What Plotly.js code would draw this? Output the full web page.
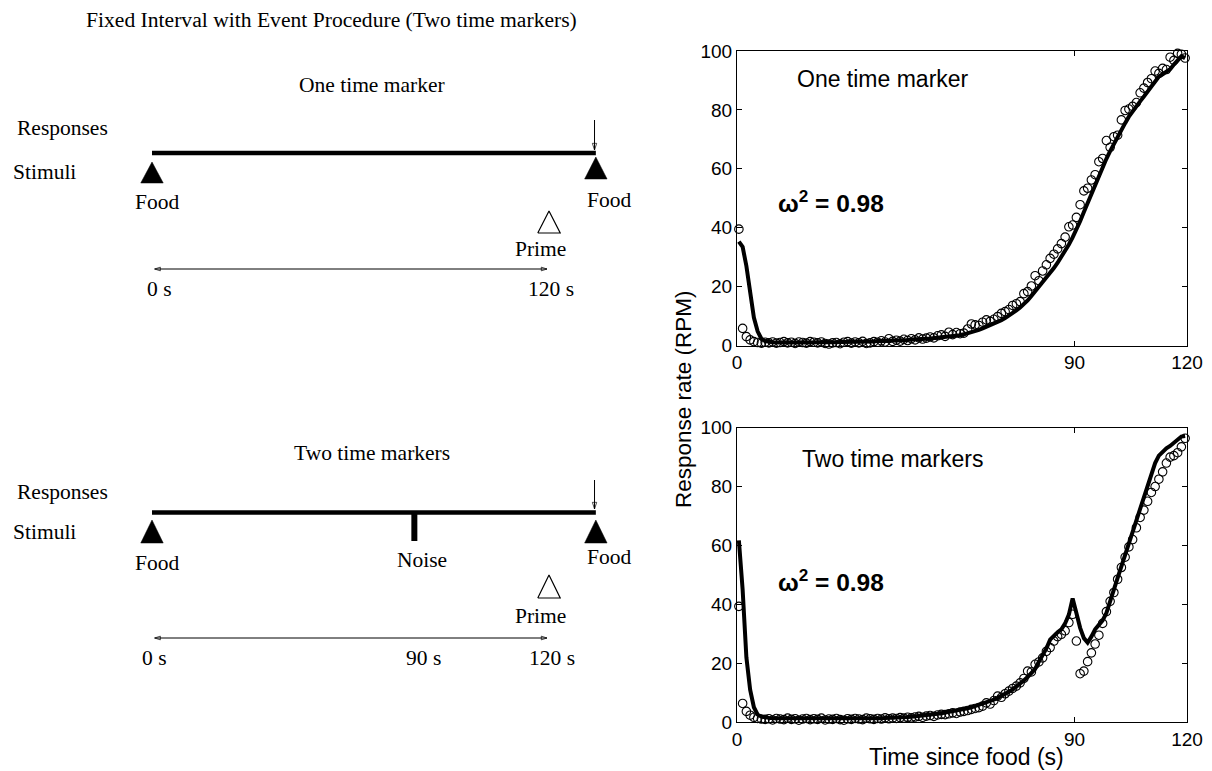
<!DOCTYPE html>
<html>
<head>
<meta charset="utf-8">
<script src="https://cdn.plot.ly/plotly-3.0.1.min.js"></script>
<style>
html,body{margin:0;padding:0;background:#fff;}
#chart{width:1212px;height:771px;}
</style>
</head>
<body>
<div id="chart"></div>
<script>
// ---------------- data ----------------
const timeBins = [0.5,1.5,2.5,3.5,4.5,5.5,6.5,7.5,8.5,9.5,
  10.5,11.5,12.5,13.5,14.5,15.5,16.5,17.5,18.5,19.5,
  20.5,21.5,22.5,23.5,24.5,25.5,26.5,27.5,28.5,29.5,
  30.5,31.5,32.5,33.5,34.5,35.5,36.5,37.5,38.5,39.5,
  40.5,41.5,42.5,43.5,44.5,45.5,46.5,47.5,48.5,49.5,
  50.5,51.5,52.5,53.5,54.5,55.5,56.5,57.5,58.5,59.5,
  60.5,61.5,62.5,63.5,64.5,65.5,66.5,67.5,68.5,69.5,
  70.5,71.5,72.5,73.5,74.5,75.5,76.5,77.5,78.5,79.5,
  80.5,81.5,82.5,83.5,84.5,85.5,86.5,87.5,88.5,89.5,
  90.5,91.5,92.5,93.5,94.5,95.5,96.5,97.5,98.5,99.5,
  100.5,101.5,102.5,103.5,104.5,105.5,106.5,107.5,108.5,109.5,
  110.5,111.5,112.5,113.5,114.5,115.5,116.5,117.5,118.5,119.5];

const oneObserved = [39.5,5.8,3.0,1.9,1.3,1.0,0.8,1.1,0.9,1.2,
  0.8,1.0,1.3,0.9,1.1,0.7,1.2,1.0,0.8,1.3,
  1.1,0.9,1.2,0.7,0.5,0.9,1.0,0.6,1.1,1.3,
  0.8,1.2,0.9,1.4,0.7,0.9,1.3,1.1,1.6,1.2,
  2.3,1.4,1.8,1.5,2.1,1.7,2.3,1.9,2.6,2.2,
  2.5,2.9,2.6,3.3,3.6,3.1,4.5,3.7,4.4,4.0,
  4.2,5.6,7.3,7.0,6.8,7.9,8.7,8.2,8.9,9.8,
  10.9,11.5,12.2,13.6,14.2,14.9,17.6,18.3,20.2,23.7,
  22.0,25.3,27.4,29.6,31.0,32.8,34.6,36.8,40.3,40.9,
  43.5,47.8,52.5,53.4,56.2,58.0,62.4,63.5,69.6,67.3,
  70.9,71.4,76.6,79.8,80.3,81.2,82.5,85.8,87.4,89.3,
  90.6,93.2,92.4,94.1,93.7,97.9,96.8,99.2,98.9,97.6];

const oneModel = [35.3,33.5,27.0,17.5,9.5,4.8,2.3,1.5,1.2,1.1,
  1.0,1.1,1.2,1.1,1.0,1.1,1.2,1.2,1.1,1.0,
  1.1,1.2,1.3,1.2,1.1,1.0,1.1,1.2,1.2,1.3,
  1.2,1.1,1.2,1.3,1.4,1.3,1.4,1.5,1.4,1.5,
  1.6,1.6,1.7,1.8,1.8,1.9,2.0,2.0,2.1,2.2,
  2.3,2.4,2.5,2.6,2.7,2.8,3.0,3.1,3.3,3.5,
  3.8,4.1,4.5,4.9,5.3,5.8,6.3,6.8,7.3,7.9,
  8.6,9.3,10.1,11.0,11.9,12.9,14.0,15.3,16.8,18.3,
  19.8,21.3,22.9,24.5,26.3,28.1,30.0,32.1,34.3,36.7,
  39.3,42.2,45.3,48.4,51.5,54.6,57.6,60.6,63.4,66.0,
  68.5,70.9,73.2,75.5,77.7,79.6,81.3,82.9,84.5,86.2,
  88.0,89.8,91.3,92.1,92.9,93.8,95.4,97.0,98.2,97.5];

const twoObserved = [39.3,6.3,3.6,2.3,1.6,1.2,1.0,0.9,1.1,0.7,
  1.2,1.0,0.8,1.3,0.9,1.1,0.6,1.0,1.2,0.8,
  1.1,0.9,1.3,0.7,1.0,0.9,1.2,0.8,0.6,1.1,
  0.9,1.2,1.0,0.8,1.3,1.1,0.9,1.2,1.0,1.4,
  1.1,1.3,1.2,1.5,1.3,1.6,1.4,1.7,1.9,1.6,
  2.0,2.2,1.9,2.4,2.6,2.5,2.8,3.1,2.9,3.4,
  3.6,3.9,4.3,4.6,4.9,5.4,6.5,6.1,7.3,8.8,
  8.4,9.6,10.5,11.4,12.2,13.3,14.8,17.3,17.0,19.6,
  20.4,21.8,24.0,25.3,27.5,29.0,29.8,31.0,33.8,36.6,
  27.5,16.4,17.3,20.5,23.5,26.5,29.5,33.5,37.5,41.0,
  44.0,48.5,52.5,56.0,59.5,62.0,66.0,69.5,72.0,75.0,
  78.0,80.0,82.5,85.0,88.0,90.0,90.5,91.5,93.5,96.4];

const twoModel = [61.7,45.0,22.0,11.0,5.0,2.5,1.8,1.5,1.4,1.3,
  1.3,1.2,1.2,1.2,1.1,1.1,1.1,1.1,1.0,1.0,
  1.0,1.0,1.0,1.0,1.0,1.0,1.0,1.1,1.1,1.1,
  1.1,1.1,1.2,1.2,1.2,1.2,1.3,1.3,1.3,1.4,
  1.4,1.5,1.5,1.6,1.6,1.7,1.8,1.9,2.0,2.1,
  2.2,2.4,2.6,2.8,3.0,3.2,3.4,3.6,3.9,4.1,
  4.4,4.7,5.0,5.4,5.8,6.2,6.6,7.1,7.6,8.2,
  8.8,9.5,10.3,11.1,12.0,13.0,14.1,15.3,16.6,18.0,
  20.5,22.5,25.0,28.0,29.5,30.5,31.5,33.5,36.5,42.0,
  37.0,32.0,28.5,27.0,29.0,31.5,33.0,34.5,37.0,41.5,
  45.0,49.0,53.0,57.0,60.5,64.0,68.0,72.0,76.0,80.0,
  84.0,88.0,90.5,92.0,93.0,93.8,94.8,96.0,97.0,97.2];

const xTickVals = [0, 90, 120];
const yTickVals = [0, 20, 40, 60, 80, 100];
const panelNames = ['One time marker', 'Two time markers'];
const fitText = '<b>\u03c9<sup>2</sup> = 0.98</b>';
const xTitle = 'Time since food (s)';
const yTitle = 'Response rate (RPM)';

// schematic (left) texts
const schematicTitle = 'Fixed Interval with Event Procedure (Two time markers)';
const rowLabels = ['Responses', 'Stimuli'];
const eventLabels = ['Food', 'Prime', 'Food', 'Noise'];
const intervalLabelsOne = ['0 s', '120 s'];
const intervalLabelsTwo = ['0 s', '90 s', '120 s'];

// ---------------- layout helpers ----------------
const W = 1212, H = 771;
const pyTop = px => 1 - px / H;
const serif = 'Liberation Serif, Times New Roman, serif';
const sans = 'Liberation Sans, Arial, sans-serif';

// schematic x axis: seconds of the drawn interval (not to scale)
const sX0 = 152, sScale = 3.3, sDomEnd = 0.55;
const sRange = [-sX0 / sScale, (sDomEnd * W - sX0) / sScale];
const pos = {start: 0, prime: 120, food: 134.5, noise: 79.5};
const triHalf = 3.4;

// per-panel vertical rows (pixels below the time line)
const rowsOne = {header: -68, resp: -25, stim: 19, triL: [9, 30], triR: [4, 26], foodL: 49, foodR: 47,
  primeTri: [58, 80], primeLbl: 96, arrow: 116, ticks: 136, respArrow: [-33, -3]};
const rowsTwo = {header: -60, resp: -20.5, stim: 19.5, triL: [7.5, 30.5], triR: [7.5, 30.5], foodL: 50.5, foodR: 44.5,
  noiseBar: 28.5, noiseLbl: 47.5, primeTri: [62.5, 85.5], primeLbl: 103.5, arrow: 125.5, ticks: 145, respArrow: [-32.5, -3.5]};

const traces = [];
const annotations = [];

function tri(xc, rows, yaxis, filled) {
  traces.push({
    x: [xc - triHalf, xc + triHalf, xc, xc - triHalf],
    y: [rows[1], rows[1], rows[0], rows[1]],
    xaxis: 'x3', yaxis: yaxis, mode: 'lines', fill: 'toself',
    fillcolor: filled ? '#000' : '#fff',
    line: {color: '#000', width: filled ? 0.5 : 1.2},
    hoverinfo: 'skip', showlegend: false
  });
}
function txt(text, x, y, yref, xanchor, size) {
  annotations.push({text: text, x: x, y: y, xref: 'x3', yref: yref, showarrow: false,
    xanchor: xanchor || 'center', yanchor: 'middle',
    font: {family: serif, size: size || 21.5, color: '#000'}});
}
function arrowTrace(xs, ys, yaxis, sizes, angles) {
  traces.push({x: xs, y: ys, xaxis: 'x3', yaxis: yaxis, mode: 'lines+markers', cliponaxis: false,
    line: {color: '#000', width: 1},
    marker: {symbol: 'arrow-open', size: sizes, angle: angles, color: '#000', line: {width: 1, color: '#000'}},
    hoverinfo: 'skip', showlegend: false});
}

function schematic(rows, yaxis, yref, header, ticks, tickPos, hasNoise) {
  traces.push({x: [pos.start, pos.food], y: [0, 0], xaxis: 'x3', yaxis: yaxis, mode: 'lines',
    line: {color: '#000', width: 4.3}, hoverinfo: 'skip', showlegend: false});
  if (hasNoise) {
    traces.push({x: [pos.noise, pos.noise], y: [0, rows.noiseBar], xaxis: 'x3', yaxis: yaxis, mode: 'lines',
      line: {color: '#000', width: 6}, hoverinfo: 'skip', showlegend: false});
  }
  tri(pos.start, rows.triL, yaxis, true);
  tri(pos.food, rows.triR, yaxis, true);
  tri(pos.prime + 0.3, rows.primeTri, yaxis, false);
  arrowTrace([pos.food - 0.4, pos.food - 0.4], rows.respArrow, yaxis, [0, 7], [180, 180]);
  arrowTrace([pos.start + 0.8, pos.prime - 0.3], [rows.arrow, rows.arrow], yaxis, [6, 6], [-90, 90]);
  txt(header, 66.7, rows.header, yref);
  txt(rowLabels[0], -41.5, rows.resp, yref, 'left');
  txt(rowLabels[1], -42.7, rows.stim, yref, 'left');
  txt(eventLabels[0], pos.start + 1.5, rows.foodL, yref);
  txt(eventLabels[1], pos.prime - 2.3, rows.primeLbl, yref);
  txt(eventLabels[2], pos.food + 4, rows.foodR, yref);
  if (hasNoise) txt(eventLabels[3], pos.noise + 2.3, rows.noiseLbl, yref);
  ticks.forEach((t, i) => txt(t, tickPos[i], rows.ticks, yref));
}

schematic(rowsOne, 'y3', 'y3', panelNames[0], intervalLabelsOne, [2.4, 121], false);
schematic(rowsTwo, 'y4', 'y4', panelNames[1], intervalLabelsTwo, [0.9, 82.3, 121.2], true);

annotations.push({text: schematicTitle, xref: 'paper', yref: 'paper', x: 331.5 / W, y: pyTop(20),
  xanchor: 'center', yanchor: 'middle', showarrow: false, font: {family: serif, size: 21.6, color: '#000'}});

// ---------------- data panels ----------------
function panel(obs, model, xa, ya) {
  traces.push({x: timeBins, y: obs, xaxis: xa, yaxis: ya, mode: 'markers', cliponaxis: false,
    marker: {symbol: 'circle-open', size: 8.5, color: '#000', line: {width: 1.1, color: '#000'}},
    hoverinfo: 'skip', showlegend: false});
  traces.push({x: timeBins, y: model, xaxis: xa, yaxis: ya, mode: 'lines',
    line: {color: '#000', width: 4}, hoverinfo: 'skip', showlegend: false});
}
panel(oneObserved, oneModel, 'x', 'y');
panel(twoObserved, twoModel, 'x2', 'y2');

const plotLeft = 737, plotRight = 1187;
function xAx(anchor) {
  return {domain: [plotLeft / W, plotRight / W], range: [0, 120], anchor: anchor,
    tickmode: 'array', tickvals: xTickVals, ticks: 'inside', ticklen: 5, tickwidth: 1, tickcolor: '#000',
    showline: true, linecolor: '#000', linewidth: 1, mirror: 'ticks', showgrid: false, zeroline: false,
    tickfont: {family: sans, size: 19, color: '#000'}};
}
function yAx(anchor, topPx, botPx) {
  return {domain: [pyTop(botPx), pyTop(topPx)], range: [0, 100], anchor: anchor,
    tickmode: 'array', tickvals: yTickVals, ticks: 'inside', ticklen: 5, tickwidth: 1, tickcolor: '#000',
    showline: true, linecolor: '#000', linewidth: 1, mirror: 'ticks', showgrid: false, zeroline: false,
    tickfont: {family: sans, size: 19, color: '#000'}};
}

function plotText(text, x, y, xref, yref, size) {
  annotations.push({text: text, x: x, y: y, xref: xref, yref: yref, showarrow: false,
    xanchor: 'left', yanchor: 'middle', font: {family: sans, size: size, color: '#000'}});
}
plotText(panelNames[0], 15.5, 90.5, 'x', 'y', 23);
plotText(fitText, 10.4, 49, 'x', 'y', 24.5);
plotText(panelNames[1], 16.8, 89.5, 'x2', 'y2', 23);
plotText(fitText, 10.4, 48, 'x2', 'y2', 24.5);

annotations.push({text: yTitle, xref: 'paper', yref: 'paper', x: 683 / W, y: pyTop(399), textangle: -90,
  showarrow: false, xanchor: 'center', yanchor: 'middle', font: {family: sans, size: 22.5, color: '#000'}});
annotations.push({text: xTitle, xref: 'paper', yref: 'paper', x: 966 / W, y: pyTop(757),
  showarrow: false, xanchor: 'center', yanchor: 'middle', font: {family: sans, size: 23, color: '#000'}});

const hidden = {visible: false, showgrid: false, zeroline: false, fixedrange: true};
const layout = {
  width: W, height: H, margin: {l: 0, r: 0, t: 0, b: 0},
  paper_bgcolor: '#fff', plot_bgcolor: 'rgba(0,0,0,0)', showlegend: false,
  xaxis: xAx('y'), yaxis: yAx('x', 51, 345.5),
  xaxis2: xAx('y2'), yaxis2: yAx('x2', 427.7, 722),
  xaxis3: Object.assign({}, hidden, {domain: [0, sDomEnd], range: sRange, anchor: 'y3'}),
  yaxis3: Object.assign({}, hidden, {domain: [pyTop(340), 1], range: [340 - 153, -153], anchor: 'x3'}),
  yaxis4: Object.assign({}, hidden, {domain: [pyTop(720), pyTop(360)], range: [720 - 512.5, 360 - 512.5], anchor: 'x3'}),
  annotations: annotations
};

Plotly.newPlot('chart', traces, layout, {staticPlot: true, displayModeBar: false});
</script>
</body>
</html>
